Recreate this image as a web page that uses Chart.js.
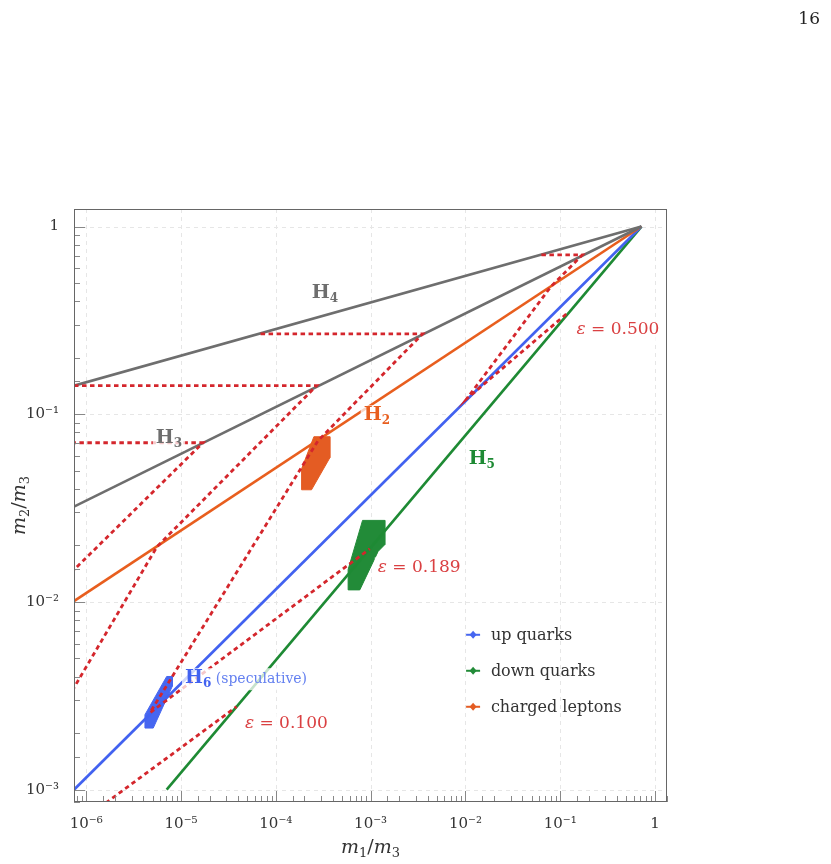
<!DOCTYPE html>
<html lang="en">
<head>
  <meta charset="UTF-8">
  <title>Mass ratio hierarchies</title>
  <script src="https://cdn.jsdelivr.net/npm/chart.js"></script>
  <style>
    body { margin: 0; background: #fff; }
    canvas { display: block; }
  </style>
</head>
<body>
<canvas id="massChart" width="831" height="864"></canvas>
<script>
  // axis ranges: m1/m3 across, m2/m3 up
  const xRange = [7.42e-7, 1.34]
  const yRange = [8.6e-4, 1.24]

  // hierarchy lines, points are [m1/m3, m2/m3]
  const h4Line = [[7.42e-7, 0.142], [0.72, 1]]
  const h3Line = [[7.42e-7, 0.0322], [0.72, 1]]
  const h2Line = [[7.42e-7, 0.0101], [0.72, 1]]
  const h6Line = [[7.42e-7, 0.001], [0.72, 1]]
  const h5Line = [[7.05e-6, 0.001], [0.72, 1]]

  // fixed-epsilon paths, visiting H4 -> H3 -> H2 -> H6 -> H5
  const eps0500 = [[0.0634, 0.707], [0.1716, 0.707], [0.0795, 0.477], [0.01035, 0.121], [0.1201, 0.347]]
  const eps0189 = [[6.9e-5, 0.268], [3.53e-3, 0.268], [2.78e-4, 0.0722], [4.69e-6, 2.57e-3], [9.81e-4, 0.0192]]
  const eps0100 = [[7.42e-7, 0.142], [2.69e-4, 0.142], [5.57e-6, 0.0197], [2.23e-8, 1.73e-4], [3.85e-5, 2.77e-3]]
  const eps0050 = [[5.4e-9, 0.0705], [1.7e-5, 0.0705], [6.9e-8, 4.55e-3]]

  // measured fermion regions
  const upQuarks = [[7.05e-6, 4.01e-3], [8.07e-6, 4.01e-3], [8.07e-6, 3.55e-3], [5.09e-6, 2.13e-3], [4.16e-6, 2.13e-3], [4.16e-6, 2.51e-3]]
  const downQuarks = [[8.22e-4, 0.0272], [1.41e-3, 0.0272], [1.41e-3, 0.0202], [1.2e-3, 0.0186], [7.69e-4, 0.0116], [5.79e-4, 0.0116], [5.79e-4, 0.0149]]
  const chargedLeptons = [[2.52e-4, 0.0759], [3.71e-4, 0.0759], [3.71e-4, 0.0586], [2.38e-4, 0.0396], [1.87e-4, 0.0396], [1.87e-4, 0.0512]]

  const GRAY = 'rgb(110,110,110)'
  const ORANGE = 'rgb(232,94,30)'
  const BLUE = 'rgb(66,98,240)'
  const GREEN = 'rgb(30,138,52)'
  const RED = 'rgb(212,38,44)'
  const SERIF = '"DejaVu Serif", serif'

  const toPts = arr => arr.map(([x, y]) => ({ x, y }))
  const isPow10 = v => Math.abs(Math.log10(v) - Math.round(Math.log10(v))) < 1e-6
  const sup = { '-': '⁻', '0': '⁰', '1': '¹', '2': '²', '3': '³', '4': '⁴', '5': '⁵', '6': '⁶', '7': '⁷', '8': '⁸', '9': '⁹' }
  const powLabel = v => {
    const e = Math.round(Math.log10(v))
    return e === 0 ? '1' : '10' + String(e).split('').map(c => sup[c]).join('')
  }

  const hLines = [
    { data: h4Line, color: GRAY },
    { data: h3Line, color: GRAY },
    { data: h2Line, color: ORANGE },
    { data: h6Line, color: BLUE },
    { data: h5Line, color: GREEN }
  ]
  const epsCurves = [eps0500, eps0189, eps0100, eps0050]
  const regions = [
    { label: 'up quarks', data: upQuarks, color: 'rgb(70,102,240)' },
    { label: 'down quarks', data: downQuarks, color: 'rgb(34,139,56)' },
    { label: 'charged leptons', data: chargedLeptons, color: 'rgb(228,92,35)' }
  ]

  // text tags placed in data coordinates
  const hb = (t, c) => ({ t, font: `bold 19px ${SERIF}`, color: c })
  const hs = (t, c) => ({ t, font: `bold 12px ${SERIF}`, color: c, dy: 4 })
  const epsRuns = v => [
    { t: 'ε', font: `italic 17px ${SERIF}`, color: 'rgb(218,64,66)' },
    { t: ' = ' + v, font: `17px ${SERIF}`, color: 'rgb(218,64,66)' }
  ]
  const tags = [
    { x: 3.29e-4, y: 0.449, align: 'center', runs: [hb('H', GRAY), hs('4', GRAY)] },
    { x: 7.45e-6, y: 0.0759, align: 'center', runs: [hb('H', GRAY), hs('3', GRAY)] },
    { x: 1.163e-3, y: 0.1006, align: 'center', runs: [hb('H', ORANGE), hs('2', ORANGE)] },
    { x: 0.0149, y: 0.0586, align: 'center', runs: [hb('H', GREEN), hs('5', GREEN)] },
    { x: 1.1e-5, y: 4.0e-3, align: 'left', runs: [hb('H', BLUE), hs('6', BLUE),
      { t: ' (speculative)', font: `14px ${SERIF}`, color: 'rgb(100,128,240)' }] },
    { x: 0.149, y: 0.289, align: 'left', runs: epsRuns('0.500') },
    { x: 1.19e-3, y: 0.0156, align: 'left', runs: epsRuns('0.189') },
    { x: 4.72e-5, y: 2.3e-3, align: 'left', runs: epsRuns('0.100') }
  ]

  function drawRuns(ctx, runs, x, y, align, halo) {
    let w = 0
    for (const r of runs) { ctx.font = r.font; r.w = ctx.measureText(r.t).width; w += r.w }
    let cx = align === 'center' ? x - w / 2 : x
    if (halo) {
      ctx.fillStyle = 'rgba(255,255,255,0.75)'
      ctx.fillRect(cx - 3, y - 15, w + 6, 22)
    }
    for (const r of runs) {
      ctx.font = r.font
      ctx.fillStyle = r.color
      ctx.fillText(r.t, cx, y + (r.dy || 0))
      cx += r.w
    }
  }

  const decor = {
    id: 'decor',
    beforeDatasetsDraw(chart) {
      const { ctx, chartArea: a, scales: { x, y } } = chart
      ctx.save()
      ctx.strokeStyle = '#e6e6e6'
      ctx.lineWidth = 1
      ctx.setLineDash([4, 4])
      x.ticks.filter(t => isPow10(t.value)).forEach(t => {
        const px = Math.round(x.getPixelForValue(t.value)) + 0.5
        ctx.beginPath(); ctx.moveTo(px, a.top); ctx.lineTo(px, a.bottom); ctx.stroke()
      })
      y.ticks.filter(t => isPow10(t.value)).forEach(t => {
        const py = Math.round(y.getPixelForValue(t.value)) + 0.5
        ctx.beginPath(); ctx.moveTo(a.left, py); ctx.lineTo(a.right, py); ctx.stroke()
      })
      ctx.restore()
    },
    afterDraw(chart) {
      const { ctx, chartArea: a, scales: { x, y } } = chart
      ctx.save()
      // frame and inward ticks
      ctx.strokeStyle = '#888'
      ctx.lineWidth = 1
      x.ticks.forEach(t => {
        const px = Math.round(x.getPixelForValue(t.value)) + 0.5
        const len = isPow10(t.value) ? 11 : 6
        ctx.beginPath(); ctx.moveTo(px, a.bottom); ctx.lineTo(px, a.bottom - len); ctx.stroke()
      })
      y.ticks.forEach(t => {
        const py = Math.round(y.getPixelForValue(t.value)) + 0.5
        const len = isPow10(t.value) ? 11 : 6
        ctx.beginPath(); ctx.moveTo(a.left, py); ctx.lineTo(a.left + len, py); ctx.stroke()
      })
      ctx.strokeStyle = '#666'
      ctx.strokeRect(a.left + 0.5, a.top + 0.5, a.right - a.left - 1, a.bottom - a.top - 1)

      // curve tags
      ctx.textBaseline = 'alphabetic'
      tags.forEach(tg => {
        drawRuns(ctx, tg.runs, x.getPixelForValue(tg.x), y.getPixelForValue(tg.y) + 6.5, tg.align, true)
      })

      // legend
      const w = a.right - a.left, h = a.bottom - a.top
      regions.forEach((r, i) => {
        const my = a.top + h * 0.718 + i * 36
        const mx = a.left + w * 0.673
        ctx.strokeStyle = r.color
        ctx.fillStyle = r.color
        ctx.lineWidth = 2
        ctx.beginPath(); ctx.moveTo(mx - 7, my); ctx.lineTo(mx + 7, my); ctx.stroke()
        ctx.beginPath()
        ctx.moveTo(mx, my - 4); ctx.lineTo(mx + 3.5, my); ctx.lineTo(mx, my + 4); ctx.lineTo(mx - 3.5, my)
        ctx.closePath(); ctx.fill()
        ctx.font = `16px ${SERIF}`
        ctx.fillStyle = '#333'
        ctx.fillText(r.label, a.left + w * 0.703, my + 5)
      })

      // axis titles
      const mi = `italic 19px ${SERIF}`, sb = `13px ${SERIF}`, rg = `19px ${SERIF}`
      const title = (a1, a2) => [
        { t: 'm', font: mi, color: '#333' }, { t: a1, font: sb, color: '#333', dy: 4 },
        { t: '/', font: rg, color: '#333' },
        { t: 'm', font: mi, color: '#333' }, { t: a2, font: sb, color: '#333', dy: 4 }
      ]
      drawRuns(ctx, title('1', '3'), (a.left + a.right) / 2, 853, 'center', false)
      ctx.save()
      ctx.translate(25, (a.top + a.bottom) / 2)
      ctx.rotate(-Math.PI / 2)
      drawRuns(ctx, title('2', '3'), 0, 0, 'center', false)
      ctx.restore()

      // page number
      ctx.font = `17px ${SERIF}`
      ctx.fillStyle = '#222'
      ctx.textAlign = 'right'
      ctx.fillText('16', 820, 24)
      ctx.restore()
    }
  }

  const datasets = [
    ...epsCurves.map(c => ({
      data: toPts(c), showLine: true, borderColor: RED, borderWidth: 2.8,
      borderDash: [4.5, 3.5], pointRadius: 0, fill: false, order: 0
    })),
    ...hLines.map(l => ({
      data: toPts(l.data), showLine: true, borderColor: l.color, borderWidth: 2.6,
      pointRadius: 0, fill: false, order: 1
    })),
    ...regions.map(r => ({
      label: r.label, data: toPts([...r.data, r.data[0]]), showLine: true,
      borderColor: r.color, backgroundColor: r.color, borderWidth: 1,
      pointRadius: 0, fill: 'shape', order: 2
    }))
  ]

  const tickOpts = {
    autoSkip: false, maxRotation: 0, minRotation: 0,
    color: '#333', font: { family: 'DejaVu Serif', size: 15 },
    callback: v => isPow10(v) ? powLabel(v) : ''
  }

  new Chart(document.getElementById('massChart'), {
    type: 'scatter',
    data: { datasets },
    options: {
      responsive: false,
      animation: false,
      layout: { padding: { top: 209, right: 164, left: 0, bottom: 0 } },
      plugins: { legend: { display: false }, tooltip: { enabled: false } },
      scales: {
        x: {
          type: 'logarithmic', min: xRange[0], max: xRange[1],
          grid: { display: false }, border: { display: false },
          ticks: { ...tickOpts, padding: 5 },
          afterFit: s => { s.height = 62 }
        },
        y: {
          type: 'logarithmic', min: yRange[0], max: yRange[1],
          grid: { display: false }, border: { display: false },
          ticks: { ...tickOpts, padding: 7 },
          afterFit: s => { s.width = 74 }
        }
      }
    },
    plugins: [decor]
  })
</script>
</body>
</html>
